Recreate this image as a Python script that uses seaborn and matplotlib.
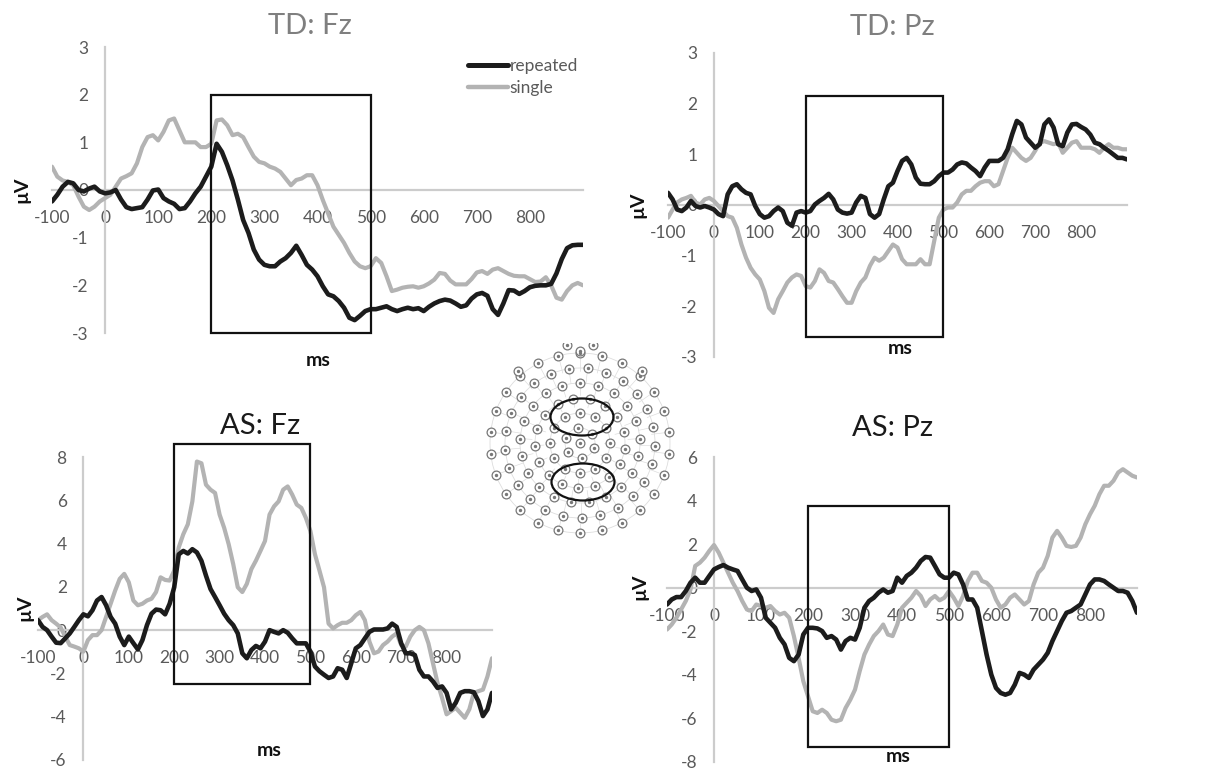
#!/usr/bin/env python3
# coding=utf-8
from matplotlib import pyplot as plt
from matplotlib.patches import Rectangle, Ellipse, Circle
from matplotlib.lines import Line2D
import pandas as pd
import seaborn as sns
import numpy as np

# ---------------------------------------------------------------------------
# data, time axis in ms, amplitude in uV
# ---------------------------------------------------------------------------
ms = list(range(-100, 901, 10))

x_ticks = [-100, 0, 100, 200, 300, 400, 500, 600, 700, 800, 900]
x_labels = ["-100", "0", "100", "200", "300", "400", "500", "600", "700", "800", ""]

td_fz_repeated = [
    -0.24, -0.10, 0.07, 0.17, 0.14, 0.00, -0.03, 0.03, 0.07, -0.03,
    -0.07, -0.05, 0.00, -0.20, -0.36, -0.40, -0.38, -0.36, -0.20, -0.01,
    0.01, -0.17, -0.24, -0.29, -0.40, -0.38, -0.24, -0.07, 0.07, 0.28,
    0.49, 0.97, 0.80, 0.52, 0.20, -0.20, -0.63, -0.90, -1.25, -1.46,
    -1.57, -1.60, -1.60, -1.50, -1.43, -1.32, -1.17, -1.36, -1.57, -1.67,
    -1.81, -2.02, -2.19, -2.23, -2.33, -2.47, -2.68, -2.73, -2.64, -2.54,
    -2.50, -2.50, -2.47, -2.44, -2.50, -2.54, -2.50, -2.47, -2.50, -2.48,
    -2.54, -2.45, -2.38, -2.33, -2.30, -2.32, -2.38, -2.45, -2.42, -2.28,
    -2.19, -2.16, -2.22, -2.50, -2.62, -2.38, -2.10, -2.11, -2.18, -2.12,
    -2.04, -2.01, -2.00, -2.00, -1.97, -1.75, -1.45, -1.22, -1.16, -1.15,
    -1.15,
]
td_fz_single = [
    0.49, 0.28, 0.20, 0.17, 0.10, -0.14, -0.35, -0.42, -0.35, -0.24,
    -0.17, -0.10, 0.07, 0.24, 0.29, 0.35, 0.56, 0.90, 1.11, 1.15,
    1.04, 1.22, 1.46, 1.50, 1.25, 1.00, 1.00, 1.00, 0.90, 0.90,
    0.97, 1.46, 1.48, 1.36, 1.15, 1.18, 1.11, 0.90, 0.70, 0.59,
    0.56, 0.49, 0.45, 0.38, 0.24, 0.10, 0.21, 0.24, 0.31, 0.31,
    0.10, -0.21, -0.49, -0.77, -0.94, -1.11, -1.32, -1.50, -1.60, -1.64,
    -1.60, -1.43, -1.53, -1.81, -2.12, -2.09, -2.05, -2.03, -2.02, -2.05,
    -2.02, -1.96, -1.88, -1.74, -1.76, -1.90, -1.98, -1.98, -1.98, -1.87,
    -1.73, -1.70, -1.76, -1.67, -1.64, -1.70, -1.76, -1.80, -1.81, -1.81,
    -1.87, -1.93, -1.92, -1.83, -2.00, -2.26, -2.30, -2.12, -2.00, -1.95,
    -2.00,
]

td_pz_repeated = [
    0.24, 0.11, -0.09, -0.12, -0.05, 0.08, -0.02, -0.05, -0.02, -0.05,
    -0.09, -0.18, -0.22, 0.21, 0.37, 0.41, 0.31, 0.24, 0.21, -0.02,
    -0.18, -0.25, -0.22, -0.12, -0.05, -0.12, -0.35, -0.41, -0.15, -0.12,
    -0.15, -0.12, 0.01, 0.08, 0.14, 0.22, 0.11, -0.09, -0.15, -0.17,
    -0.15, 0.05, 0.18, 0.14, -0.18, -0.25, -0.18, 0.11, 0.37, 0.44,
    0.67, 0.87, 0.93, 0.80, 0.54, 0.42, 0.41, 0.41, 0.47, 0.57,
    0.64, 0.64, 0.70, 0.80, 0.84, 0.82, 0.74, 0.67, 0.57, 0.74,
    0.87, 0.87, 0.87, 0.93, 1.10, 1.40, 1.66, 1.59, 1.33, 1.23,
    1.13, 1.20, 1.59, 1.69, 1.53, 1.20, 1.16, 1.43, 1.59, 1.60,
    1.54, 1.49, 1.39, 1.23, 1.20, 1.13, 1.07, 1.00, 0.93, 0.93,
    0.90,
]
td_pz_single = [
    -0.25, -0.09, 0.05, 0.11, 0.14, 0.18, 0.05, 0.01, 0.11, 0.14,
    0.08, -0.02, -0.12, -0.22, -0.25, -0.45, -0.78, -1.04, -1.24, -1.37,
    -1.47, -1.70, -2.03, -2.13, -1.86, -1.70, -1.53, -1.43, -1.37, -1.40,
    -1.60, -1.63, -1.50, -1.27, -1.34, -1.50, -1.53, -1.66, -1.80, -1.93,
    -1.93, -1.70, -1.53, -1.43, -1.20, -1.04, -1.10, -1.04, -0.91, -0.78,
    -0.84, -1.07, -1.17, -1.17, -1.17, -1.07, -1.17, -1.17, -0.71, -0.25,
    -0.09, -0.05, -0.05, 0.05, 0.21, 0.28, 0.28, 0.37, 0.44, 0.47,
    0.47, 0.37, 0.41, 0.67, 0.93, 1.13, 1.03, 0.93, 0.87, 0.93,
    1.07, 1.23, 1.26, 1.23, 1.20, 1.23, 1.03, 1.13, 1.23, 1.26,
    1.13, 1.13, 1.13, 1.10, 1.03, 1.13, 1.20, 1.13, 1.13, 1.10,
    1.10,
]

as_fz_repeated = [
    0.46, 0.15, 0.00, -0.30, -0.58, -0.60, -0.38, -0.15, 0.15, 0.46,
    0.73, 0.64, 0.92, 1.37, 1.53, 1.15, 0.61, 0.30, -0.30, -0.69,
    -0.30, -0.60, -0.89, -0.46, 0.23, 0.76, 0.95, 0.92, 0.73, 1.22,
    1.98, 3.50, 3.66, 3.54, 3.74, 3.59, 3.20, 2.52, 1.90, 1.53,
    1.15, 0.76, 0.46, 0.23, -0.15, -1.07, -1.30, -0.92, -0.73, -0.84,
    -0.53, 0.00, -0.08, -0.15, 0.00, -0.12, -0.38, -0.61, -0.61, -0.61,
    -0.99, -1.68, -1.90, -2.06, -2.21, -2.14, -1.76, -1.83, -2.21, -1.53,
    -0.84, -0.69, -0.38, -0.08, 0.03, 0.03, 0.03, 0.08, 0.30, 0.15,
    -0.61, -1.07, -1.07, -1.15, -1.83, -2.14, -2.14, -2.37, -2.67, -2.60,
    -2.90, -3.66, -3.36, -2.90, -2.82, -2.82, -2.87, -3.28, -3.97, -3.66,
    -2.90,
]
as_fz_single = [
    0.46, 0.61, 0.73, 0.46, 0.30, 0.12, -0.30, -0.69, -0.76, -0.84,
    -0.99, -0.46, -0.23, -0.23, 0.00, 0.61, 1.22, 1.83, 2.37, 2.60,
    2.21, 1.37, 1.15, 1.22, 1.37, 1.45, 1.76, 2.44, 2.32, 2.29,
    2.75, 3.82, 4.43, 4.89, 5.95, 7.79, 7.71, 6.72, 6.49, 6.34,
    5.34, 4.73, 3.97, 3.05, 1.98, 1.76, 2.14, 2.82, 3.21, 3.66,
    4.12, 5.34, 5.72, 5.95, 6.49, 6.64, 6.26, 5.80, 5.65, 5.19,
    4.58, 3.51, 2.75, 1.98, 0.30, 0.08, 0.23, 0.34, 0.34, 0.46,
    0.69, 0.84, 0.46, -0.53, -1.07, -0.99, -0.69, -0.53, -0.30, -0.15,
    -0.69, -0.76, -0.30, 0.00, 0.15, 0.00, -0.61, -1.53, -2.44, -3.13,
    -3.89, -3.74, -3.59, -3.82, -4.05, -3.66, -2.90, -2.82, -2.75, -2.14,
    -1.30,
]

as_pz_repeated = [
    -0.77, -0.54, -0.43, -0.43, -0.15, 0.23, 0.46, 0.23, 0.23, 0.54,
    0.84, 0.95, 1.04, 0.92, 0.84, 0.77, 0.38, 0.00, -0.15, -0.08,
    -0.46, -1.38, -1.61, -1.84, -2.30, -2.60, -3.22, -3.37, -3.07, -2.15,
    -1.84, -1.84, -1.87, -1.99, -2.30, -2.22, -2.38, -2.84, -2.45, -2.30,
    -2.38, -1.84, -0.92, -0.61, -0.46, -0.23, -0.08, -0.23, -0.15, 0.46,
    0.23, 0.54, 0.69, 0.92, 1.23, 1.41, 1.38, 1.00, 0.61, 0.46,
    0.46, 0.69, 0.61, 0.15, -0.54, -0.54, -0.92, -1.99, -3.07, -3.99,
    -4.60, -4.83, -4.91, -4.83, -4.45, -3.91, -3.99, -4.14, -3.76, -3.53,
    -3.30, -2.99, -2.45, -1.99, -1.53, -1.15, -1.07, -0.92, -0.77, -0.31,
    0.15, 0.38, 0.38, 0.31, 0.15, 0.00, -0.15, -0.15, -0.23, -0.61,
    -1.15,
]
as_pz_single = [
    -1.92, -1.69, -1.38, -1.00, -0.61, -0.08, 1.00, 1.15, 1.38, 1.69,
    1.96, 1.61, 1.15, 0.69, 0.23, -0.15, -0.61, -1.00, -1.07, -0.77,
    -0.84, -0.92, -0.84, -1.07, -1.23, -1.15, -1.38, -2.22, -3.22, -4.29,
    -4.98, -5.67, -5.75, -5.60, -5.75, -6.06, -6.13, -6.06, -5.52, -5.14,
    -4.68, -3.83, -3.07, -2.61, -2.22, -1.99, -1.69, -2.15, -2.22, -1.69,
    -0.92, -0.69, -0.46, -0.15, -0.38, -0.84, -0.54, -0.38, -0.58, -0.46,
    -0.15, -0.46, -0.84, -0.38, 0.31, 0.69, 0.69, 0.31, 0.23, 0.00,
    -0.54, -0.92, -0.77, -0.46, -0.31, -0.54, -0.77, -0.61, 0.15, 0.69,
    0.92, 1.46, 2.30, 2.61, 2.30, 1.92, 1.87, 1.92, 2.30, 2.91,
    3.37, 3.76, 4.29, 4.68, 4.68, 4.91, 5.29, 5.44, 5.29, 5.14,
    5.06,
]

# analysis windows (ms from, ms to, uV bottom, uV top)
td_fz_box = [200, 500, -3.0, 2.0]
td_pz_box = [200, 500, -2.6, 2.15]
as_fz_box = [200, 500, -2.5, 8.6]
as_pz_box = [200, 500, -7.3, 3.76]

td_fz_yticks = [3, 2, 1, 0, -1, -2, -3]
td_pz_yticks = [3, 2, 1, 0, -1, -2, -3]
as_fz_yticks = [8, 6, 4, 2, 0, -2, -4, -6]
as_pz_yticks = [6, 4, 2, 0, -2, -4, -6, -8]

# ---------------------------------------------------------------------------
# styling / layout (pixels of a 1227x773 canvas)
# ---------------------------------------------------------------------------
W, H = 1227, 773
BLACK = "#1c1c1c"
GRAY = "#b3b3b3"
AXIS_GRAY = "#cccccc"
TICK_TXT = "#5a5a5a"

PANELS = [
    # title, title colour, repeated, single, box, yticks,
    # axes px (x-100, x900, ytop, ybottom), title px, µV px, ms px
    dict(title="TD: Fz", tcolor="#7f7f7f", rep=td_fz_repeated, sgl=td_fz_single,
         box=td_fz_box, yticks=td_fz_yticks, ax_px=(52, 583, 47, 333),
         title_px=(310, 26), uv_px=(22, 190), ms_px=(318, 360), legend=True),
    dict(title="TD: Pz", tcolor="#7f7f7f", rep=td_pz_repeated, sgl=td_pz_single,
         box=td_pz_box, yticks=td_pz_yticks, ax_px=(668, 1127, 53, 357),
         title_px=(892, 27), uv_px=(638, 205), ms_px=(900, 348), legend=False),
    dict(title="AS: Fz", tcolor="#1a1a1a", rep=as_fz_repeated, sgl=as_fz_single,
         box=as_fz_box, yticks=as_fz_yticks, ax_px=(38, 492, 457, 760),
         title_px=(260, 426), uv_px=(25, 608), ms_px=(269, 750), legend=False),
    dict(title="AS: Pz", tcolor="#1a1a1a", rep=as_pz_repeated, sgl=as_pz_single,
         box=as_pz_box, yticks=as_pz_yticks, ax_px=(667, 1137, 457, 762),
         title_px=(892, 428), uv_px=(640, 587), ms_px=(898, 757), legend=False),
]


def fx(x):
    return x / W


def fy(y):
    return 1 - y / H


def draw_panel(fig, p):
    x0, x1, yt, yb = p["ax_px"]
    ax = fig.add_axes([fx(x0), fy(yb), (x1 - x0) / W, (yb - yt) / H])
    ax.set_facecolor("none")

    # gray first so the black trace lies on top
    sns.lineplot(x=ms, y=p["sgl"], ax=ax, color=GRAY, linewidth=3.0, zorder=3)
    sns.lineplot(x=ms, y=p["rep"], ax=ax, color=BLACK, linewidth=3.3, zorder=4)

    t0, t1, b0, b1 = p["box"]
    ax.add_patch(Rectangle((t0, b0), t1 - t0, b1 - b0, fill=False,
                           edgecolor="#111111", linewidth=1.6, zorder=5, clip_on=False))

    yt_ = p["yticks"]
    ax.set_xlim(-100, 900)
    ax.set_ylim(min(yt_), max(yt_))
    ax.set_xticks(x_ticks)
    ax.set_xticklabels(x_labels)
    ax.set_yticks(yt_)
    ax.set_yticklabels([str(v) for v in yt_])
    ax.set_xlabel("")
    ax.set_ylabel("")

    # Excel-like axes crossing at zero
    for s in ["top", "right"]:
        ax.spines[s].set_visible(False)
    ax.spines["left"].set_position(("data", 0))
    ax.spines["bottom"].set_position(("data", 0))
    for s in ["left", "bottom"]:
        ax.spines[s].set_color(AXIS_GRAY)
        ax.spines[s].set_linewidth(1.6)
        ax.spines[s].set_zorder(1)
    ax.tick_params(axis="x", direction="inout", length=9, width=1.5,
                   color=AXIS_GRAY, pad=10, labelsize=12.5, labelcolor=TICK_TXT)
    ax.tick_params(axis="y", direction="out", length=5, width=1.5,
                   color=AXIS_GRAY, pad=7, labelsize=12.5, labelcolor=TICK_TXT)

    fig.text(fx(p["title_px"][0]), fy(p["title_px"][1]), p["title"], fontsize=21,
             color=p["tcolor"], ha="center", va="center")
    fig.text(fx(p["uv_px"][0]), fy(p["uv_px"][1]), "µV", fontsize=14, fontweight="bold",
             rotation=90, ha="center", va="center", color="#111111")
    fig.text(fx(p["ms_px"][0]), fy(p["ms_px"][1]), "ms", fontsize=14, fontweight="bold",
             ha="center", va="center", color="#111111")

    if p["legend"]:
        handles = [Line2D([], [], color=BLACK, linewidth=3.6),
                   Line2D([], [], color=GRAY, linewidth=3.2)]
        fig.legend(handles, ["repeated", "single"], loc="upper left",
                   bbox_to_anchor=(fx(468), fy(58)), bbox_transform=fig.transFigure,
                   frameon=False, fontsize=12.5, handlelength=2.3, handletextpad=0.1,
                   labelspacing=0.35, borderpad=0, borderaxespad=0, labelcolor=TICK_TXT)
    return ax


def draw_net(fig):
    # schematic of the 128-channel sensor net with the two electrode clusters
    ax = fig.add_axes([fx(480), fy(543), 200 / W, 200 / H])
    ax.set_xlim(-100, 100)
    ax.set_ylim(-100, 100)
    ax.set_aspect("equal")
    ax.axis("off")

    radii = [0, 15, 30, 45, 60, 75, 90]
    counts = [1, 6, 12, 17, 21, 25, 26]
    xs, ys = [], []
    for r, n in zip(radii, counts):
        if r > 0:
            ax.add_patch(Circle((0, 0), r, fill=False, edgecolor="#dddddd", linewidth=0.6))
        for k in range(n):
            a = np.pi / 2 + 2 * np.pi * k / n + (0.15 if r % 30 else 0)
            xs.append(r * np.cos(a))
            ys.append(r * np.sin(a))
            if r > 0:
                ax.plot([0.8 * r * np.cos(a), r * np.cos(a)],
                        [0.8 * r * np.sin(a), r * np.sin(a)],
                        color="#dddddd", linewidth=0.5)
    # frontal/face sensors above the outer ring
    xs += [-13, 13, 0, -62, 62]
    ys += [98, 98, 92, 72, 72]
    ax.scatter(xs, ys, s=40, facecolor="white", edgecolor="#777777", linewidth=0.9, zorder=3)
    ax.scatter(xs, ys, s=2, color="#777777", zorder=4)

    ax.add_patch(Ellipse((2, 26), 63, 37, fill=False, edgecolor="#111111", linewidth=1.6, zorder=5))
    ax.add_patch(Ellipse((3, -39), 63, 37, fill=False, edgecolor="#111111", linewidth=1.6, zorder=5))


if __name__ == "__main__":
    sns.set_style("white")
    plt.rcParams["font.family"] = ["Lato", "DejaVu Sans"]

    fig = plt.figure(figsize=(W / 100, H / 100), dpi=100)
    fig.set_facecolor("white")
    draw_net(fig)
    for panel in PANELS:
        draw_panel(fig, panel)
    fig.savefig("out.png", dpi=100)
